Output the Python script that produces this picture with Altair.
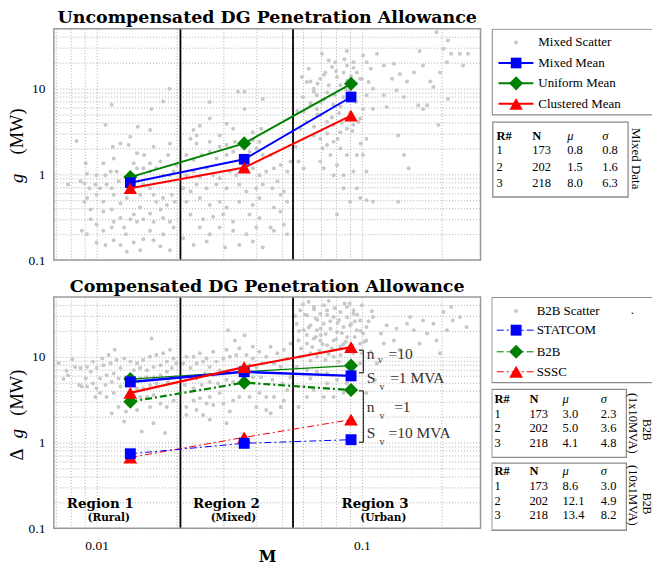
import altair as alt
import pandas as pd

# ---------------- data ----------------
regions_M = [0.0134, 0.036, 0.091]
region_bounds_M = [0.0207, 0.055]

mixed_mean = [0.8, 1.5, 8.0]
uniform_mean = [0.93, 2.3, 11.4]
clustered_mean = [0.69, 1.2, 4.85]

statcom_nv10 = [5.1, 6.7, 6.0]
b2b_nv10 = [5.5, 6.7, 7.9]
sssc_nv10 = [3.8, 7.6, 13.0]
statcom_nv1 = [0.74, 0.98, 1.08]
b2b_nv1 = [3.0, 5.0, 4.1]
sssc_nv1 = [0.67, 1.15, 1.85]

table_R = ["1", "2", "3"]
table_N = ["173", "202", "218"]
mixed_mu = ["0.8", "1.5", "8.0"]
mixed_sigma = ["0.8", "1.6", "6.3"]
b2b_1x10_mu = ["3.0", "5.0", "4.1"]
b2b_1x10_sigma = ["2.3", "3.6", "4.8"]
b2b_10x1_mu = ["8.6", "12.1", "13.4"]
b2b_10x1_sigma = ["3.0", "4.9", "8.2"]

x_tick_values = [0.007, 0.008, 0.009, 0.01, 0.02, 0.03, 0.04, 0.05, 0.06,
                 0.07, 0.08, 0.09, 0.1, 0.2]
y_tick_values = [0.1, 0.2, 0.3, 0.4, 0.5, 0.6, 0.7, 0.8, 0.9, 1, 2, 3, 4, 5,
                 6, 7, 8, 9, 10, 20, 30, 40]

mixed_scatter = [
    (0.0188, 10.0), (0.0178, 7.1), (0.0161, 5.8), (0.0114, 6.5), (0.0108, 3.8), (0.0143, 3.6), (0.0159, 3.3), (0.0134, 2.75), (0.0084, 2.45), (0.0115, 2.1),
    (0.0123, 2.3), (0.0132, 2.2), (0.0164, 2.1), (0.0189, 2.3), (0.0186, 1.68), (0.0151, 1.68), (0.0142, 1.76), (0.0116, 1.53), (0.0091, 1.35), (0.0106, 1.35),
    (0.0159, 1.35), (0.0174, 1.41), (0.0200, 1.29), (0.0092, 1.02), (0.0100, 0.98), (0.0108, 0.98), (0.0113, 1.08), (0.0119, 1.08), (0.0121, 0.83), (0.0138, 1.35),
    (0.0142, 1.18), (0.0150, 1.18), (0.0159, 1.08), (0.0168, 1.18), (0.0178, 0.98), (0.0189, 0.98), (0.0195, 1.08), (0.0087, 0.83), (0.0078, 0.76), (0.0090, 0.79),
    (0.0094, 0.69), (0.0099, 0.76), (0.0103, 0.69), (0.0109, 0.76), (0.0114, 0.69), (0.0116, 0.58), (0.0100, 0.58), (0.0092, 0.53), (0.0106, 0.48), (0.0090, 0.48),
    (0.0095, 0.39), (0.0106, 0.37), (0.0114, 0.39), (0.0123, 0.46), (0.0130, 0.53), (0.0146, 0.58), (0.0150, 0.76), (0.0159, 0.69), (0.0164, 0.58), (0.0168, 0.48),
    (0.0178, 0.53), (0.0184, 0.44), (0.0192, 0.58), (0.0197, 0.48), (0.0174, 0.39), (0.0159, 0.35), (0.0146, 0.41), (0.0138, 0.34), (0.0134, 0.30), (0.0123, 0.31),
    (0.0116, 0.28), (0.0100, 0.26), (0.0095, 0.30), (0.0088, 0.22), (0.0092, 0.20), (0.0106, 0.22), (0.0114, 0.24), (0.0127, 0.24), (0.0129, 0.20), (0.0142, 0.28),
    (0.0150, 0.30), (0.0164, 0.28), (0.0178, 0.31), (0.0189, 0.28), (0.0195, 0.24), (0.0178, 0.20), (0.0159, 0.22), (0.0150, 0.175), (0.0138, 0.16), (0.0123, 0.15),
    (0.0108, 0.15), (0.0100, 0.16), (0.0116, 0.17), (0.0130, 0.125), (0.0146, 0.13), (0.0174, 0.145), (0.0189, 0.13), (0.0164, 0.17),
    (0.0232, 3.3), (0.0238, 2.85), (0.0245, 3.7), (0.0267, 4.5), (0.0267, 7.0), (0.0341, 9.2), (0.0361, 9.2), (0.0361, 5.8), (0.0309, 3.9), (0.0327, 3.4),
    (0.0291, 2.85), (0.0388, 3.1), (0.0423, 7.6), (0.0417, 3.4), (0.0226, 2.6), (0.0238, 2.3), (0.0267, 2.4), (0.0291, 2.1), (0.0309, 2.2), (0.0332, 2.4),
    (0.0388, 2.5), (0.0411, 2.4), (0.0218, 1.68), (0.0232, 1.47), (0.0249, 1.68), (0.0267, 1.84), (0.0283, 1.53), (0.0309, 1.68), (0.0327, 1.84), (0.0377, 1.84),
    (0.0400, 2.0), (0.0423, 1.68), (0.0218, 0.98), (0.0232, 1.08), (0.0245, 0.94), (0.0260, 1.18), (0.0275, 0.98), (0.0291, 0.90), (0.0318, 1.08), (0.0336, 0.98),
    (0.0388, 1.18), (0.0411, 0.98), (0.0436, 1.08), (0.0212, 0.69), (0.0226, 0.63), (0.0238, 0.76), (0.0260, 0.69), (0.0283, 0.76), (0.0309, 0.69), (0.0345, 0.76),
    (0.0367, 0.63), (0.0400, 0.69), (0.0423, 0.76), (0.0218, 0.48), (0.0245, 0.53), (0.0267, 0.44), (0.0291, 0.48), (0.0309, 0.41), (0.0345, 0.48), (0.0388, 0.44),
    (0.0411, 0.53), (0.0226, 0.34), (0.0252, 0.30), (0.0275, 0.32), (0.0300, 0.34), (0.0327, 0.28), (0.0377, 0.34), (0.0411, 0.31), (0.0245, 0.24), (0.0267, 0.20),
    (0.0291, 0.24), (0.0327, 0.22), (0.0367, 0.20), (0.0400, 0.24), (0.0212, 0.18), (0.0232, 0.15), (0.0260, 0.165), (0.0305, 0.14), (0.0345, 0.15), (0.0388, 0.165),
    (0.0423, 0.14),
    (0.0453, 1.68), (0.0466, 1.18), (0.0494, 1.29), (0.0523, 1.08), (0.0538, 1.41), (0.0480, 0.83), (0.0508, 0.63), (0.0460, 0.69), (0.0494, 0.58), (0.0523, 0.48),
    (0.0466, 0.41), (0.0494, 0.37), (0.0453, 0.24), (0.0508, 0.26), (0.0523, 0.20), (0.0466, 0.22),
    (0.0594, 13.7), (0.0630, 17.1), (0.0640, 12.1), (0.0659, 10.0), (0.0677, 8.4), (0.0697, 13.1), (0.0707, 25.6), (0.0728, 15.5), (0.0750, 21.3), (0.0772, 17.9),
    (0.0794, 20.4), (0.0806, 13.7), (0.0829, 11.0), (0.0853, 15.5), (0.0878, 18.7), (0.0878, 27.5), (0.0929, 20.4), (0.0957, 15.5), (0.0985, 13.1), (0.101, 24.4),
    (0.104, 20.4), (0.108, 17.1), (0.104, 8.4), (0.101, 5.8), (0.0985, 4.5), (0.0929, 3.8), (0.0878, 3.4), (0.0829, 3.1), (0.0782, 3.8), (0.0739, 4.1),
    (0.0697, 4.9), (0.0677, 5.8), (0.0640, 6.4), (0.0603, 5.4), (0.0618, 4.1), (0.0586, 3.4), (0.0659, 2.85), (0.0697, 2.6), (0.0739, 2.2), (0.0782, 2.4),
    (0.0829, 2.0), (0.0878, 1.68), (0.0761, 1.68), (0.0697, 1.41), (0.0806, 1.29), (0.0853, 0.98), (0.0782, 0.98), (0.0718, 1.18), (0.0929, 1.08), (0.0957, 0.69),
    (0.0985, 0.53), (0.0903, 0.48), (0.0853, 0.69), (0.0806, 0.34), (0.104, 0.50), (0.110, 0.48), (0.101, 1.68), (0.104, 1.08), (0.0957, 1.68), (0.0577, 1.41),
    (0.0603, 1.18), (0.0563, 2.1), (0.104, 2.6), (0.110, 5.8), (0.114, 25.6), (0.121, 18.7), (0.130, 13.1), (0.132, 19.5), (0.139, 14.8), (0.148, 12.1),
    (0.157, 15.5), (0.165, 27.5), (0.170, 18.7), (0.181, 12.1), (0.186, 10.5), (0.191, 45.7), (0.203, 29.2), (0.211, 36.5), (0.217, 25.6), (0.234, 25.6),
    (0.241, 18.7), (0.251, 25.6), (0.209, 20.4), (0.197, 15.5), (0.176, 6.4), (0.163, 6.4), (0.144, 8.0), (0.135, 9.6), (0.124, 6.1), (0.137, 2.85),
    (0.144, 1.68), (0.150, 1.18), (0.137, 0.48), (0.211, 7.6), (0.194, 3.8), (0.170, 5.8), (0.121, 8.4), (0.110, 10.0),
    (0.072, 7.5), (0.078, 6.5), (0.085, 8.0), (0.090, 9.5), (0.095, 7.0), (0.068, 11.5), (0.074, 9.0), (0.082, 5.2), (0.088, 12.5), (0.092, 3.2),
    (0.099, 2.3), (0.066, 3.6), (0.071, 2.0),
    (0.062, 12.0), (0.066, 9.2), (0.070, 7.0), (0.075, 11.0), (0.079, 8.5), (0.083, 6.2), (0.087, 9.8), (0.091, 14.0), (0.095, 11.5), (0.080, 16.0),
    (0.072, 14.5), (0.064, 6.8), (0.068, 5.0), (0.077, 4.6), (0.084, 4.0), (0.090, 5.2), (0.097, 4.1), (0.093, 17.5), (0.086, 22.0), (0.100, 13.0),
    (0.106, 12.0), (0.060, 8.0), (0.057, 5.5), (0.074, 3.0), (0.081, 2.6),
]

b2b_scatter = [
    (0.0161, 16.4), (0.0117, 12.1), (0.0111, 10.5), (0.0105, 9.6), (0.0097, 8.8), (0.0092, 7.6), (0.0087, 7.4), (0.0083, 7.6), (0.0078, 6.1), (0.0086, 4.7),
    (0.0091, 5.6), (0.0095, 6.7), (0.0100, 7.4), (0.0106, 8.0), (0.0113, 8.4), (0.0119, 9.2), (0.0127, 9.6), (0.0134, 8.8), (0.0142, 8.4), (0.0150, 9.2),
    (0.0159, 10.0), (0.0168, 10.5), (0.0178, 11.0), (0.0189, 12.1), (0.0195, 9.6), (0.0184, 8.8), (0.0174, 8.0), (0.0164, 7.6), (0.0155, 7.0), (0.0146, 7.4),
    (0.0138, 7.0), (0.0123, 7.4), (0.0116, 6.4), (0.0109, 6.1), (0.0103, 5.6), (0.0097, 4.9), (0.0092, 4.5), (0.0100, 4.3), (0.0108, 4.7), (0.0114, 5.1),
    (0.0121, 5.6), (0.0129, 5.8), (0.0146, 5.6), (0.0155, 5.8), (0.0164, 5.8), (0.0174, 6.1), (0.0184, 6.7), (0.0192, 7.4), (0.0200, 8.4), (0.0197, 5.8),
    (0.0186, 5.1), (0.0168, 4.9), (0.0159, 4.7), (0.0150, 4.3), (0.0142, 4.3), (0.0123, 4.5), (0.0116, 3.8), (0.0109, 3.4), (0.0103, 3.8), (0.0099, 3.4),
    (0.0146, 3.4), (0.0155, 3.4), (0.0164, 3.6), (0.0174, 2.85), (0.0184, 2.6), (0.0195, 3.1), (0.0159, 2.6), (0.0142, 2.4), (0.0129, 2.3), (0.0114, 2.2),
    (0.0148, 1.35), (0.0181, 1.29), (0.0164, 1.68), (0.0127, 1.76), (0.0088, 4.5), (0.0121, 2.6), (0.0072, 8.5), (0.0075, 5.5), (0.0081, 9.4), (0.0077, 6.9),
    (0.0313, 20.4), (0.0361, 17.9), (0.0332, 15.5), (0.0388, 13.1), (0.0345, 12.6), (0.0309, 12.1), (0.0275, 11.5), (0.0260, 9.6), (0.0245, 11.0), (0.0232, 10.0),
    (0.0218, 10.0), (0.0212, 8.4), (0.0226, 7.4), (0.0238, 8.4), (0.0252, 8.8), (0.0267, 7.6), (0.0283, 8.8), (0.0300, 9.6), (0.0318, 10.0), (0.0336, 10.5),
    (0.0367, 10.5), (0.0388, 9.6), (0.0411, 11.5), (0.0436, 10.0), (0.0423, 8.4), (0.0400, 7.6), (0.0377, 8.0), (0.0291, 7.0), (0.0275, 6.1), (0.0256, 6.4),
    (0.0238, 5.6), (0.0226, 5.8), (0.0215, 4.7), (0.0232, 4.3), (0.0249, 4.7), (0.0267, 5.1), (0.0287, 4.9), (0.0309, 5.4), (0.0327, 5.1), (0.0388, 5.8),
    (0.0417, 5.8), (0.0291, 3.8), (0.0267, 3.4), (0.0245, 3.3), (0.0232, 3.1), (0.0218, 2.6), (0.0238, 2.4), (0.0260, 2.85), (0.0275, 2.75), (0.0300, 2.85),
    (0.0327, 3.1), (0.0345, 3.4), (0.0377, 3.4), (0.0411, 3.8), (0.0436, 3.4), (0.0218, 2.1), (0.0252, 2.1), (0.0267, 1.84), (0.0318, 2.3), (0.0400, 2.6),
    (0.0309, 1.68), (0.0436, 2.4),
    (0.0453, 13.1), (0.0480, 11.0), (0.0508, 12.1), (0.0538, 14.3), (0.0466, 8.4), (0.0494, 7.6), (0.0523, 9.6), (0.0460, 5.4), (0.0501, 4.9), (0.0538, 5.8),
    (0.0466, 3.4), (0.0508, 3.1), (0.0453, 2.2), (0.0494, 2.6), (0.0523, 4.1),
    (0.0586, 35.0), (0.0621, 30.5), (0.0659, 38.3), (0.0697, 31.9), (0.0739, 35.0), (0.0782, 29.2), (0.0829, 33.4), (0.0878, 38.3), (0.0929, 31.9), (0.0985, 26.6),
    (0.104, 22.3), (0.110, 29.2), (0.0568, 24.4), (0.0603, 20.4), (0.0640, 23.4), (0.0677, 20.4), (0.0718, 24.4), (0.0761, 21.3), (0.0806, 19.5), (0.0853, 22.3),
    (0.0903, 23.4), (0.0957, 20.4), (0.101, 18.7), (0.104, 15.5), (0.0985, 14.3), (0.0577, 15.5), (0.0621, 14.3), (0.0659, 16.4), (0.0697, 15.5), (0.0739, 13.7),
    (0.0782, 15.5), (0.0829, 13.1), (0.0878, 12.1), (0.0929, 11.0), (0.0985, 8.4), (0.0586, 10.0), (0.0640, 11.0), (0.0677, 10.0), (0.0728, 9.2), (0.0782, 10.0),
    (0.0818, 8.8), (0.0568, 7.6), (0.0621, 7.0), (0.0677, 6.7), (0.0739, 6.4), (0.0806, 5.4), (0.0878, 4.9), (0.0929, 7.0), (0.0603, 4.5), (0.0659, 4.1),
    (0.0718, 3.4), (0.0782, 3.4), (0.0853, 3.8), (0.0739, 4.9), (0.0640, 5.6), (0.108, 11.5), (0.118, 18.7), (0.124, 23.4), (0.135, 21.3), (0.148, 24.4),
    (0.157, 20.4), (0.170, 26.6), (0.186, 24.4), (0.203, 33.4), (0.217, 38.3), (0.234, 29.2), (0.248, 22.3), (0.191, 15.5), (0.165, 14.3), (0.139, 12.1),
    (0.132, 15.5), (0.121, 14.3), (0.114, 8.4), (0.152, 29.2), (0.176, 18.7), (0.209, 20.4), (0.220, 26.6), (0.197, 11.0), (0.112, 5.4), (0.104, 3.8),
    (0.0577, 2.6), (0.0621, 3.4), (0.075, 45.0), (0.090, 42.0), (0.100, 40.0), (0.063, 44.0), (0.082, 27.0), (0.070, 18.0), (0.088, 17.0), (0.094, 26.0),
    (0.067, 28.0), (0.077, 12.5),
    (0.060, 41.0), (0.066, 36.0), (0.072, 40.0), (0.079, 37.0), (0.086, 42.0), (0.093, 35.0), (0.061, 31.0), (0.068, 27.0), (0.074, 31.0), (0.081, 25.0),
    (0.088, 29.0), (0.096, 31.0), (0.063, 22.0), (0.070, 21.5), (0.076, 26.0), (0.084, 19.0), (0.091, 24.0), (0.099, 20.0), (0.062, 18.0), (0.067, 17.0),
    (0.073, 18.5), (0.080, 16.0), (0.087, 15.0), (0.094, 17.0), (0.065, 13.0), (0.071, 14.0), (0.078, 12.0), (0.085, 14.0), (0.092, 13.5), (0.069, 11.8),
    (0.075, 10.8), (0.083, 10.5), (0.100, 11.0), (0.059, 12.5), (0.064, 9.0), (0.058, 20.0), (0.106, 26.0), (0.109, 34.0), (0.056, 30.0), (0.102, 15.0),
]

# ---------------- styling ----------------
SERIF = "Liberation Serif"
BOLD = "DejaVu Serif"
GRID_COLOR = "#b0b0b0"
SCATTER_COLOR = "#c8c8c8"
BLUE, GREEN, RED = "#0000ff", "#008000", "#ff0000"
W, H = 428, 232
LW = 161
DOT = 16

xs = alt.Scale(type="log", domain=[0.0069, 0.28], nice=False)
ys = alt.Scale(type="log", domain=[0.1, 50], nice=False)

x_axis_hidden = alt.Axis(values=x_tick_values, labels=False, ticks=False, domain=False,
                         grid=True, gridDash=[1, 2], gridColor=GRID_COLOR, title=None)
x_axis_shown = alt.Axis(values=x_tick_values, ticks=False, domain=False, grid=True,
                        gridDash=[1, 2], gridColor=GRID_COLOR, format="~g",
                        labelExpr="(datum.value == 0.01 || datum.value == 0.1) ? datum.label : ''",
                        labelFont=SERIF, labelFontSize=13.5, labelColor="black",
                        labelPadding=10, title="M", titleFont=BOLD, titleFontSize=16,
                        titleFontWeight="bold", titleColor="black", titlePadding=-3)
y_axis = alt.Axis(values=y_tick_values, ticks=False, domain=False, grid=True,
                  gridDash=[1, 2], gridColor=GRID_COLOR, format="~g",
                  labelExpr="(datum.value == 0.1 || datum.value == 1 || datum.value == 10) ? datum.label : ''",
                  labelFont=SERIF, labelFontSize=13.5, labelColor="black",
                  labelPadding=9, title=None)

dummy = pd.DataFrame({"a": [0]})


def plot_title(text):
    return alt.TitleParams(text, font=BOLD, fontSize=17.5, fontWeight="bold",
                           color="black", anchor="middle", offset=1)


def make_layers(xaxis):
    X = alt.X("M:Q", scale=xs, axis=xaxis)
    Y = alt.Y("g:Q", scale=ys, axis=y_axis)
    return X, Y


def series(X, Y, values, color, shape, size, width, dash=None):
    df = pd.DataFrame({"M": regions_M, "g": values})
    kw = dict(color=color, strokeWidth=width)
    if dash:
        kw["strokeDash"] = dash
    line = alt.Chart(df).mark_line(**kw).encode(x=X, y=Y)
    pts = alt.Chart(df).mark_point(shape=shape, filled=True, size=size, color=color,
                                   opacity=1).encode(x=X, y=Y)
    return [line, pts]


def frame():
    return alt.Chart(dummy).mark_rect(fill="white", fillOpacity=0, stroke="#9a9a9a",
                                      strokeWidth=1.5).encode(
        x=alt.value(0), x2=alt.value(W), y=alt.value(0), y2=alt.value(H))


def vtext(text, y, italic=False, size=18.5):
    kw = dict(text=text, font=SERIF, fontSize=size, angle=270, align="center",
              baseline="middle", color="black")
    if italic:
        kw["fontStyle"] = "italic"
    return alt.Chart(dummy).mark_text(**kw).encode(x=alt.value(-37), y=alt.value(y))


# ---------------- top plot ----------------
Xt, Yt = make_layers(x_axis_hidden)
mix_df = pd.DataFrame(mixed_scatter, columns=["M", "g"])
top_layers = [
    alt.Chart(mix_df).mark_circle(size=DOT, color=SCATTER_COLOR, opacity=1).encode(x=Xt, y=Yt),
    alt.Chart(pd.DataFrame({"M": region_bounds_M})).mark_rule(color="black", strokeWidth=1.8).encode(x=Xt),
]
top_layers += series(Xt, Yt, uniform_mean, GREEN, "diamond", 200, 2)
top_layers += series(Xt, Yt, mixed_mean, BLUE, "square", 115, 2)
top_layers += series(Xt, Yt, clustered_mean, RED, "triangle-up", 180, 2)
top_layers += [frame(), vtext("g", 150, italic=True), vtext("(MW)", 103)]
top_plot = alt.layer(*top_layers).properties(
    width=W, height=H, title=plot_title("Uncompensated DG Penetration Allowance"))

# ---------------- bottom plot ----------------
Xb, Yb = make_layers(x_axis_shown)
b2b_df = pd.DataFrame(b2b_scatter, columns=["M", "g"])
DASHDOT = [7, 3, 2, 3]
bot_layers = [
    alt.Chart(b2b_df).mark_circle(size=DOT, color=SCATTER_COLOR, opacity=1).encode(x=Xb, y=Yb),
    alt.Chart(pd.DataFrame({"M": region_bounds_M})).mark_rule(color="black", strokeWidth=1.8).encode(x=Xb),
]
bot_layers += series(Xb, Yb, b2b_nv1, GREEN, "diamond", 200, 2.2, DASHDOT)
bot_layers += series(Xb, Yb, sssc_nv1, RED, "triangle-up", 190, 1, DASHDOT)
bot_layers += series(Xb, Yb, statcom_nv1, BLUE, "square", 120, 1, DASHDOT)
bot_layers += series(Xb, Yb, b2b_nv10, GREEN, "diamond", 200, 1.2)
bot_layers += series(Xb, Yb, statcom_nv10, BLUE, "square", 120, 2.5)
bot_layers += series(Xb, Yb, sssc_nv10, RED, "triangle-up", 190, 2.2)

bracket_df = pd.DataFrame({
    "M":  [0.1013, 0.0974, 0.0974, 0.1013, 0.0974, 0.0974],
    "M2": [0.1013, 0.1013, 0.1013, 0.1013, 0.1013, 0.1013],
    "g":  [11.96, 11.96, 6.52, 4.02, 4.02, 1.008],
    "g2": [6.52, 11.96, 6.52, 1.008, 4.02, 1.008],
})
bot_layers.append(alt.Chart(bracket_df).mark_rule(color="#333333", strokeWidth=1.3).encode(
    x=Xb, x2="M2:Q", y=Yb, y2="g2:Q"))

ann_big = pd.DataFrame({
    "M": [0.1044, 0.126, 0.1044, 0.1278, 0.1044, 0.1323, 0.1044, 0.126],
    "g": [10.92, 10.92, 5.59, 5.59, 2.62, 2.62, 1.28, 1.28],
    "t": ["n", "=10", "S", "=1 MVA", "n", "=1", "S", "=10 MVA"],
})
ann_small = pd.DataFrame({"M": [0.1172, 0.119, 0.119, 0.119],
                          "g": [9.15, 4.40, 2.04, 1.008], "t": ["v", "v", "v", "v"]})
bot_layers.append(alt.Chart(ann_big).mark_text(align="left", baseline="middle", font=SERIF,
                                                fontSize=15.5, color="#333333").encode(x=Xb, y=Yb, text="t:N"))
bot_layers.append(alt.Chart(ann_small).mark_text(align="center", baseline="middle", font=SERIF,
                                                  fontSize=10, color="#333333").encode(x=Xb, y=Yb, text="t:N"))

region_df = pd.DataFrame({"M": [0.01033, 0.03086, 0.1121], "g": [0.194, 0.194, 0.194],
                          "t": ["Region 1", "Region 2", "Region 3"]})
area_df = pd.DataFrame({"M": [0.01111, 0.0328, 0.1204], "g": [0.131, 0.131, 0.131],
                        "t": ["(Rural)", "(Mixed)", "(Urban)"]})
bot_layers.append(alt.Chart(region_df).mark_text(font=BOLD, fontWeight="bold", fontSize=13.5,
                                                  color="black", baseline="middle").encode(x=Xb, y=Yb, text="t:N"))
bot_layers.append(alt.Chart(area_df).mark_text(font=BOLD, fontWeight="bold", fontSize=10.5,
                                                color="black", baseline="middle").encode(x=Xb, y=Yb, text="t:N"))
bot_layers += [frame(), vtext("Δ", 158), vtext("g", 137, italic=True), vtext("(MW)", 96)]
bot_plot = alt.layer(*bot_layers).properties(
    width=W, height=H, title=plot_title("Compensated DG Penetration Allowance"))


# ---------------- legend / table panels ----------------
def legend_panel(LH, boxes, rules, rule_kw, points, dots, texts, bold, italic, rotated):
    PX = alt.X("x:Q", scale=alt.Scale(domain=[0, LW], nice=False, zero=False), axis=None)
    PY = alt.Y("y:Q", scale=alt.Scale(domain=[0, LH], nice=False, zero=False, reverse=True), axis=None)
    TFS = 12.5
    layers = [
        alt.Chart(pd.DataFrame(boxes, columns=["x", "x2", "y", "y2"])).mark_rect(
            fill="white", stroke="#8c8c8c", strokeWidth=1.3, clip=True).encode(
            x=PX, x2="x2:Q", y=PY, y2="y2:Q"),
        alt.Chart(pd.DataFrame(rules, columns=["x", "x2", "y", "c"])).mark_rule(**rule_kw).encode(
            x=PX, x2="x2:Q", y=PY, color=alt.Color("c:N", scale=None)),
        alt.Chart(pd.DataFrame(points, columns=["x", "y", "c", "s", "sz"])).mark_point(
            filled=True, opacity=1).encode(x=PX, y=PY, color=alt.Color("c:N", scale=None),
                                           shape=alt.Shape("s:N", scale=None),
                                           size=alt.Size("sz:Q", scale=None)),
        alt.Chart(pd.DataFrame(dots, columns=["x", "y"])).mark_circle(
            size=DOT, color=SCATTER_COLOR, opacity=1).encode(x=PX, y=PY),
        alt.Chart(pd.DataFrame(texts, columns=["x", "y", "t", "fs"])).mark_text(
            align="left", baseline="middle", font=SERIF, color="black").encode(
            x=PX, y=PY, text="t:N", size=alt.Size("fs:Q", scale=None)),
        alt.Chart(pd.DataFrame(bold, columns=["x", "y", "t"])).mark_text(
            align="left", baseline="middle", font=SERIF, fontSize=TFS, fontWeight="bold",
            color="black").encode(x=PX, y=PY, text="t:N"),
        alt.Chart(pd.DataFrame(italic, columns=["x", "y", "t"])).mark_text(
            align="left", baseline="middle", font=SERIF, fontSize=TFS, fontStyle="italic",
            color="black").encode(x=PX, y=PY, text="t:N"),
        alt.Chart(pd.DataFrame(rotated, columns=["x", "y", "t", "fs"])).mark_text(
            align="center", baseline="middle", font=SERIF, angle=90,
            color="black").encode(x=PX, y=PY, text="t:N", size=alt.Size("fs:Q", scale=None)),
    ]
    return alt.layer(*layers).properties(width=LW, height=LH, title=plot_title(" "))


def table_rows(y_rows, cols_x, cols, fs=12.5):
    out = []
    for j, col in enumerate(cols):
        for i, v in enumerate(col):
            out.append((cols_x[j], y_rows[i], v, fs))
    return out


# top legend
top_leg_texts = [(47, 13.7, "Mixed Scatter", 13), (47, 34.3, "Mixed Mean", 13),
                 (47, 54.7, "Uniform Mean", 13), (47, 75.3, "Clustered Mean", 13)]
top_cols_x = [5, 41, 76, 111]
top_leg_texts += table_rows([122, 138.3, 154.6], top_cols_x,
                            [table_R, table_N, mixed_mu, mixed_sigma])
top_leg = legend_panel(
    H,
    boxes=[(0.7, 175, 0.3, 86.3), (1.3, 137, 93.7, 168.7)],
    rules=[(7, 42, 34.3, BLUE), (7, 42, 54.7, GREEN), (7, 42, 75.3, RED)],
    rule_kw=dict(strokeWidth=2),
    points=[(24.7, 34.3, BLUE, "square", 115), (24.7, 54.7, GREEN, "diamond", 200),
            (24.7, 75.3, RED, "triangle-up", 180)],
    dots=[(24.7, 13.7)],
    texts=top_leg_texts,
    bold=[(5, 108, "R#"), (41, 108, "N")],
    italic=[(76, 108, "μ"), (111, 108, "σ")],
    rotated=[(145, 130.3, "Mixed Data", 13)],
)

# bottom legend
bot_leg_texts = [(45.3, 14, "B2B Scatter", 13), (139.7, 13, ".", 13), (45.3, 33.3, "STATCOM", 13),
                 (45.3, 55, "B2B", 13), (45.3, 75, "SSSC", 13)]
bot_cols_x = [3, 38, 71.3, 109.7]
bot_leg_texts += table_rows([117, 131.6, 146.2], bot_cols_x,
                            [table_R, table_N, b2b_1x10_mu, b2b_1x10_sigma])
bot_leg_texts += table_rows([189.8, 204.5, 219.2], bot_cols_x,
                            [table_R, table_N, b2b_10x1_mu, b2b_10x1_sigma])
bot_leg = legend_panel(
    236,
    boxes=[(0.3, 175, 0.3, 86), (0.3, 135.3, 92.7, 161), (0.3, 135.3, 166.7, 234)],
    rules=[(5.3, 43, 33.3, BLUE), (5.3, 43, 55, GREEN), (5.3, 43, 75, RED)],
    rule_kw=dict(strokeWidth=1, strokeDash=DASHDOT),
    points=[(24.7, 33.3, BLUE, "square", 120), (24.7, 55, GREEN, "diamond", 200),
            (24.7, 75, RED, "triangle-up", 190)],
    dots=[(24.7, 14)],
    texts=bot_leg_texts,
    bold=[(3, 102.5, "R#"), (38, 102.5, "N"), (3, 175, "R#"), (38, 175, "N")],
    italic=[(71.3, 102.5, "μ"), (109.7, 102.5, "σ"), (71.3, 175, "μ"), (109.7, 175, "σ")],
    rotated=[(142, 126.7, "(1x10MVA)", 12.5), (142, 199, "(10x1MVA)", 12.5),
             (155.5, 133.3, "B2B", 12), (155.5, 207.3, "B2B", 12)],
)

top_row = alt.hconcat(top_plot, top_leg, spacing=10)
bot_row = alt.hconcat(bot_plot, bot_leg, spacing=10)
chart = alt.vconcat(top_row, bot_row, spacing=10).properties(
    padding={"left": 0, "top": 0, "right": 0, "bottom": 0}
).configure_view(stroke=None)

chart.save("out.html", embed_options={"renderer": "svg", "actions": False})
